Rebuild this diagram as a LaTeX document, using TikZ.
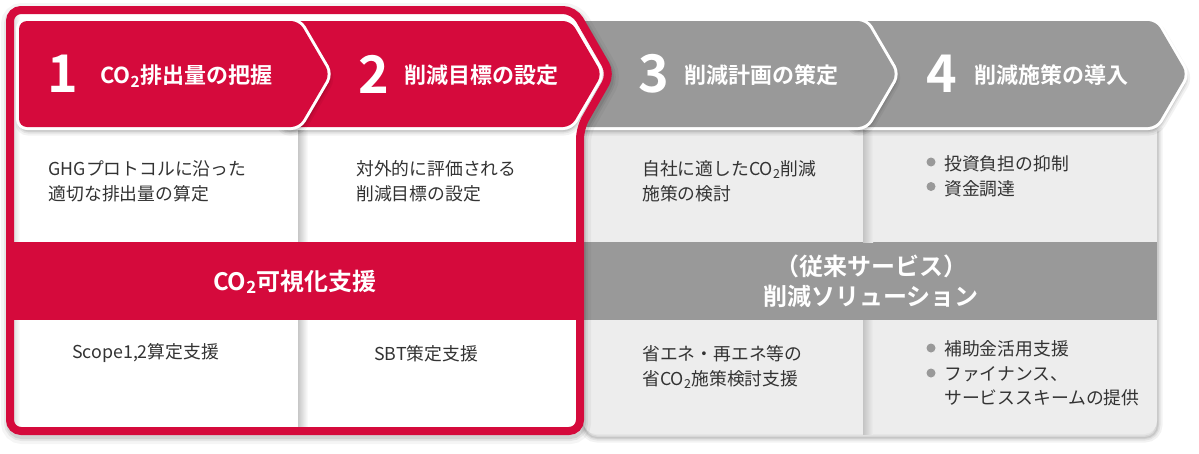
\documentclass[tikz,border=0pt]{standalone}
\usepackage{fontspec}
\setmainfont{Noto Sans CJK JP}[BoldFont={Noto Sans CJK JP Bold}]
\definecolor{brand}{HTML}{D50A3C}
\definecolor{arrowgray}{HTML}{999999}
\definecolor{panelgray}{HTML}{EDEDED}
\definecolor{ink}{HTML}{333333}
\definecolor{sepgray}{HTML}{C4C4C4}
\newcommand\COtwo{CO\textsubscript{2}}
\def\framepath{(10,200) -- (10,10) -- (574,10) -- (611,74) -- (580,128) -- (580,431) -- (10,431) -- cycle}
\def\panelpath{(583,128) -- (583,300) [rounded corners=13pt] -- (583,434) -- (1157,434) -- (1157,300) [sharp corners] -- (1157,128) -- cycle}
\def\arrowA{(19,74) -- (19,21) -- (299,21) -- (330,74) -- (299,127) -- (19,127) -- cycle}
\def\arrowB{(280,74) -- (280,21) -- (571,21) -- (602,74) -- (571,127) -- (280,127) -- cycle}
\def\arrowC{(560,74) -- (560,21) -- (866,21) -- (897,74) -- (866,127) -- (560,127) -- cycle}
\def\arrowD{(850,74) -- (850,21) -- (1156,21) -- (1187,74) -- (1156,127) -- (850,127) -- cycle}
\begin{document}
\begin{tikzpicture}[x=1pt,y=-1pt,
  softshadow/.style={
    preaction={fill=black, draw=black, opacity=0.05, line width=9pt, transform canvas={xshift=1pt,yshift=-4pt}},
    preaction={fill=none, draw=black, opacity=0.06, line width=5pt, transform canvas={xshift=1pt,yshift=-4pt}},
    preaction={fill=none, draw=black, opacity=0.08, line width=2pt, transform canvas={xshift=1pt,yshift=-4pt}}},
  arrowshape/.style={rounded corners=8pt, softshadow, preaction={fill=none, draw=white, line width=6pt}},
  body/.style={font=\fontsize{17.8pt}{25pt}\selectfont, text=ink, inner sep=0pt, anchor=base west},
  head/.style={font=\fontsize{22pt}{26pt}\selectfont\bfseries, text=white, inner sep=0pt, anchor=base west},
  num/.style={font=\fontsize{52pt}{52pt}\selectfont\bfseries, text=white, inner sep=0pt},
  band/.style={font=\fontsize{24pt}{30pt}\selectfont\bfseries, text=white, inner sep=0pt, anchor=base},
  bullet/.style={circle, fill=arrowgray, inner sep=0pt, minimum size=9pt}]
\useasboundingbox (0,0) rectangle (1199,453);
\fill[white] (0,0) rectangle (1199,453);
% gray panel (steps 3-4)
\path[softshadow, fill=panelgray] \panelpath;
\fill[arrowgray] (583,242) rectangle (1157,320);
\shade[left color=sepgray, right color=panelgray] (863,128) rectangle (873,242);
\shade[left color=sepgray, right color=panelgray] (863,320) rectangle (873,434);
\path[arrowshape, fill=arrowgray] \arrowD;
\path[arrowshape, fill=arrowgray] \arrowC;
% red frame (steps 1-2)
\draw[black, opacity=0.04, line width=20pt, rounded corners=11pt, transform canvas={xshift=1pt,yshift=-3pt}] \framepath;
\draw[black, opacity=0.06, line width=14pt, rounded corners=11pt, transform canvas={xshift=1pt,yshift=-3pt}] \framepath;
\draw[black, opacity=0.08, line width=10pt, rounded corners=11pt, transform canvas={xshift=1pt,yshift=-3pt}] \framepath;
\fill[white, rounded corners=11pt] \framepath;
\shade[left color=black!12, right color=white] (14,14) rectangle (20,427);
\shade[left color=black!22, right color=white] (298,128) rectangle (308,427);
\fill[brand] (10,242) rectangle (580,320);
\path[arrowshape, fill=brand] \arrowB;
\path[arrowshape, fill=brand] \arrowA;
\draw[brand, line width=8pt, rounded corners=11pt] \framepath;
% headings
\node[num] (n1) at (63,74) {1};
\node[head] (h1) at (100,83.5) {\COtwo 排出量の把握};
\node[num] (n2) at (374,74) {2};
\node[head] (h2) at (404,83.5) {削減目標の設定};
\node[num] (n3) at (654,74) {3};
\node[head] (h3) at (684,83.5) {削減計画の策定};
\node[num] (n4) at (942,74) {4};
\node[head] (h4) at (974,83.5) {削減施策の導入};
% upper cells
\node[body] (c1a) at (48.5,175.5) {GHGプロトコルに沿った};
\node[body] (c1b) at (48.5,200.5) {適切な排出量の算定};
\node[body] (c2a) at (356,175.5) {対外的に評価される};
\node[body] (c2b) at (356,200.5) {削減目標の設定};
\node[body] (c3a) at (642,175.5) {自社に適した\COtwo 削減};
\node[body] (c3b) at (642,200.5) {施策の検討};
\node[bullet] (d1) at (931,162) {};
\node[body] (c4a) at (944,170.5) {投資負担の抑制};
\node[bullet] (d2) at (931,186.5) {};
\node[body] (c4b) at (944,195.5) {資金調達};
% bands
\node[band] (b1) at (295,290) {\COtwo 可視化支援};
\node[band] (b2a) at (871,275) {（従来サービス）};
\node[band] (b2b) at (871,305) {削減ソリューション};
% lower cells
\node[body] (s1) at (72,358.5) {Scope1,2算定支援};
\node[body] (s2) at (374,360) {SBT策定支援};
\node[body] (s3a) at (642,360.5) {省エネ・再エネ等の};
\node[body] (s3b) at (642,385.5) {省\COtwo 施策検討支援};
\node[bullet] (d3) at (931,348) {};
\node[body] (s4a) at (944,355.5) {補助金活用支援};
\node[bullet] (d4) at (931,373) {};
\node[body] (s4b) at (944,380) {ファイナンス、};
\node[body] (s4c) at (944,404.5) {サービススキームの提供};
\end{tikzpicture}
\end{document}
